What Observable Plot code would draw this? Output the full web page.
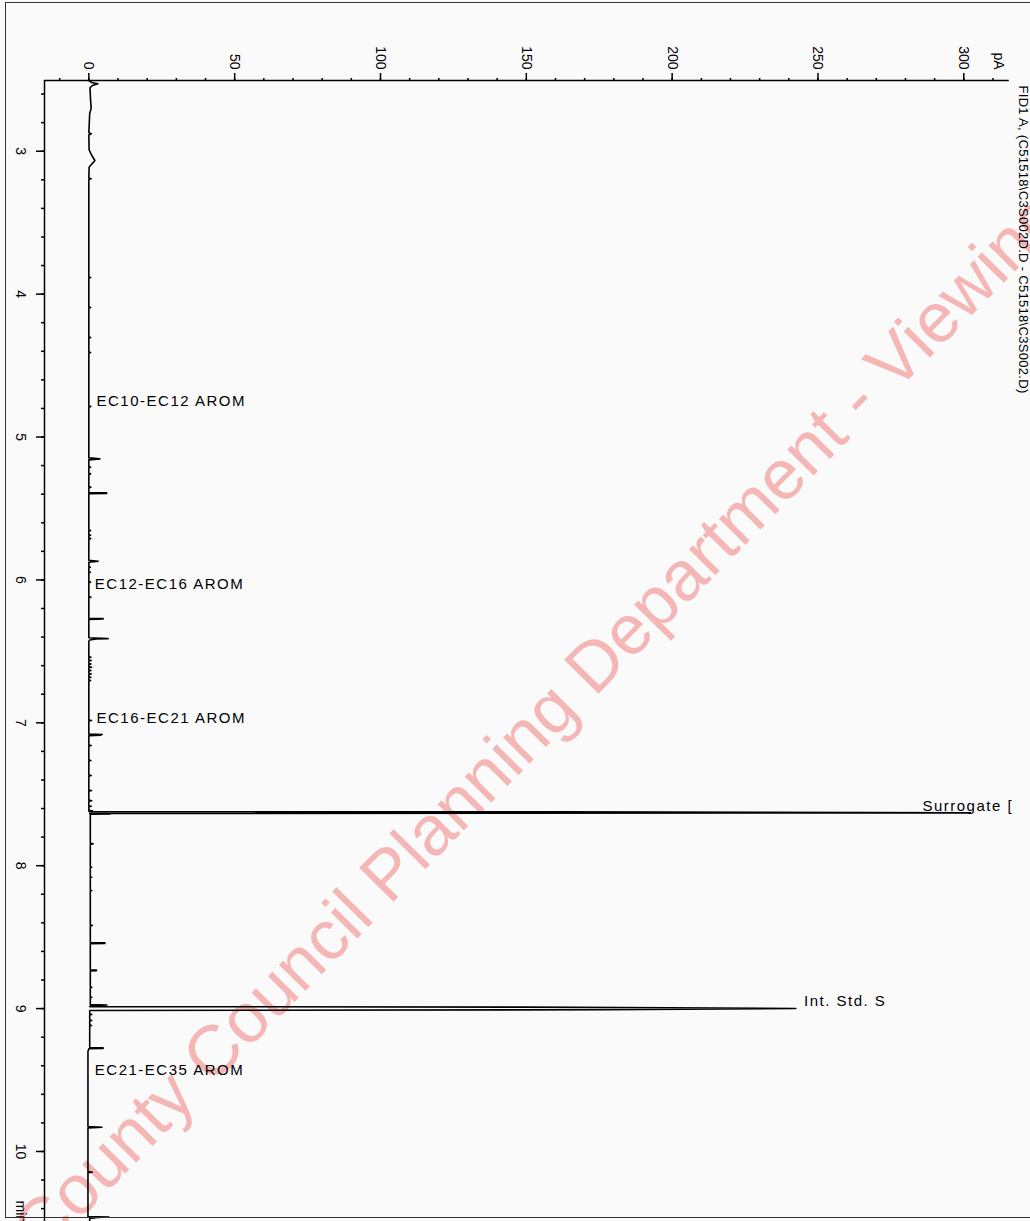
<!DOCTYPE html>
<html><head><meta charset="utf-8">
<script src="https://cdn.jsdelivr.net/npm/d3@7"></script>
<script src="https://cdn.jsdelivr.net/npm/@observablehq/plot@0.6"></script>
<style>
html,body{margin:0;padding:0;background:#fafafa;}
#wrap{position:relative;width:1030px;height:1221px;overflow:hidden;background:#fafafa;}
#border{position:absolute;left:5px;top:2px;width:1040px;height:1214px;border:1.5px solid #333;pointer-events:none;}
</style></head><body>
<div id="wrap"><div id="chart"></div><div id="border"></div></div>
<script>
// Retention time (min) and detector signal (pA)
const traceTime = [
 2.505,2.519,2.528,2.540,2.556,2.645,2.700,2.736,2.870,2.878,2.886,2.990,3.030,3.065,3.090,3.112,
 3.188,3.193,3.198,3.880,3.884,3.888,4.090,4.094,4.098,4.300,4.304,4.308,4.405,4.409,4.413,
 4.783,4.787,4.791,5.146,5.153,5.160,5.207,5.211,5.215,5.254,5.258,5.262,5.347,5.351,5.355,
 5.389,5.391,5.395,5.397,5.651,5.655,5.659,5.683,5.687,5.691,5.707,5.711,5.715,
 5.862,5.869,5.876,5.907,5.911,5.915,5.942,5.946,5.950,6.012,6.016,6.020,6.117,6.121,6.125,
 6.268,6.270,6.274,6.276,6.405,6.411,6.414,6.420,6.430,
 6.537,6.541,6.545,6.560,6.564,6.568,6.584,6.588,6.592,6.607,6.611,6.615,6.630,6.634,6.638,
 6.654,6.658,6.662,6.677,6.681,6.685,6.700,6.704,6.708,
 6.980,6.984,6.988,7.078,7.082,7.086,7.090,
 7.155,7.159,7.163,7.260,7.264,7.268,7.365,7.369,7.373,7.470,7.474,7.478,7.541,7.545,7.549,
 7.580,7.584,7.588,7.612,7.615,7.618,
 7.6215,7.623,7.630,7.6345,7.637,7.640,
 7.843,7.847,7.851,8.006,8.010,8.014,8.076,8.080,8.084,8.169,8.173,8.177,8.414,8.418,8.422,
 8.538,8.540,8.544,8.546,8.729,8.731,8.735,8.737,8.846,8.850,8.854,8.916,8.920,8.924,
 8.972,8.975,8.979,
 8.986,8.990,8.999,9.008,9.013,
 9.037,9.041,9.045,9.079,9.083,9.087,9.114,9.118,9.122,
 9.273,9.275,9.279,9.281,9.300,
 9.825,9.830,9.836,10.141,10.145,10.149,
 10.455,10.459,10.462,10.468,10.490
];
const traceSignal = [
 0,1.0,3.1,1.2,0.4,0.6,0.8,0.3,0,0.8,0,0.1,1.0,2.1,1.0,0.1,
 0,0.8,0,0,0.6,0,0,0.6,0,0,0.6,0,0,0.6,0,
 0,0.7,0,0,3.8,0,0,0.6,0,0,0.6,0,0,0.7,0,
 0,6.1,6.1,0,0,0.6,0,0,0.6,0,0,0.6,0,
 0,3.2,0,0,0.5,0,0,0.5,0,0,0.6,0,0,0.7,0,
 0,4.9,4.9,0,0,6.6,2.5,0.3,0,
 0,0.7,0,0,0.8,0,0,0.7,0,0,0.9,0,0,0.7,0,
 0,0.8,0,0,0.7,0,0,0.6,0,
 0,0.9,0,0,4.6,4.0,0,
 0,0.8,0,0,0.7,0,0,0.8,0,0,0.9,0,0,1.0,0,
 0,0.8,0,0,1.2,0,
 0.2,160,302.3,0.3,7.4,0.5,
 0.5,1.5,0.5,0.5,1.0,0.5,0.5,1.0,0.5,0.5,1.0,0.5,0.5,1.2,0.5,
 0.5,5.5,5.5,0.5,0.5,2.6,2.6,0.5,0.5,1.0,0.5,0.5,1.0,0.5,
 0.5,6.2,0.8,
 0.3,149.5,242.4,176.5,0.3,
 0.3,1.0,0.3,0.3,1.0,0.3,0.3,0.9,0.3,
 0.3,4.9,4.9,0,-0.3,
 -0.3,4.5,-0.3,-0.3,1.2,-0.3,
 -0.3,6.9,3.0,0.3,0.3
];

// Peak annotations
const labelText = ["EC10-EC12 AROM","EC12-EC16 AROM","EC16-EC21 AROM","EC21-EC35 AROM","Surrogate [","Int. Std. S"];
const labelTime = [4.784, 6.062, 7.003, 9.468, 7.619, 8.983];
const labelSignal = [2.64, 2.06, 2.64, 2.06, 285.8, 245.2];

// Axes
const xDomain = [-15.2, 315.6];
const yDomain = [2.505, 10.49];
const xMajorTicks = [0, 50, 100, 150, 200, 250, 300];
const xMinorTicks = d3.range(-10, 316, 10);
const yMajorTicks = [3, 4, 5, 6, 7, 8, 9, 10];
const yMinorTicks = d3.range(2.6, 10.45, 0.2);
const xUnit = "pA";
const yUnit = "min";
const signalTitle = "FID1 A, (C51518\\C3S002D.D - C51518\\C3S002.D)";
const watermark = "County Council Planning Department - Viewing";

const trace = traceTime.map((t, i) => ({t, s: traceSignal[i]}));
const labels = labelText.map((text, i) => ({text, t: labelTime[i], s: labelSignal[i]}));

const chart = Plot.plot({
  width: 1030,
  height: 1221,
  marginLeft: 44,
  marginTop: 80,
  marginRight: 21.2,
  marginBottom: 0,
  style: {background: "#fafafa", fontFamily: "'Liberation Sans', Arial, sans-serif", color: "black", overflow: "hidden"},
  x: {domain: xDomain, axis: null},
  y: {domain: yDomain, reverse: true, axis: null},
  marks: [
    Plot.text([watermark], {frameAnchor: "bottom-left", dx: -2, dy: 36, rotate: -45.4, textAnchor: "start",
      lineAnchor: "bottom", fontSize: 70, fill: "#f5b6b6"}),
    Plot.ruleX([xDomain[0]], {stroke: "black", strokeWidth: 1.5}),
    Plot.ruleY([yDomain[0]], {stroke: "black", strokeWidth: 1.5}),
    Plot.axisX(xMinorTicks, {anchor: "top", tickSize: 3, tickFormat: () => "", label: null, strokeWidth: 1.5}),
    Plot.axisX(xMajorTicks, {anchor: "top", tickSize: 8, tickRotate: 90, textAnchor: "end", lineAnchor: "middle",
      tickPadding: 3, fontSize: 14, label: null, strokeWidth: 1.5, tickFormat: d => String(d)}),
    Plot.axisY(yMinorTicks, {anchor: "left", tickSize: 3, tickFormat: () => "", label: null, strokeWidth: 1.5}),
    Plot.axisY(yMajorTicks, {anchor: "left", tickSize: 8, tickRotate: 90, textAnchor: "middle", lineAnchor: "top",
      tickPadding: 11, fontSize: 14, label: null, strokeWidth: 1.5, tickFormat: d => String(d)}),
    Plot.text([xUnit], {x: () => 312, frameAnchor: "top", dy: -11, rotate: 90, textAnchor: "end", lineAnchor: "middle", fontSize: 14}),
    Plot.text([yUnit], {y: () => 10.343, frameAnchor: "left", dx: -19, rotate: 90, textAnchor: "start", lineAnchor: "top", fontSize: 14}),
    Plot.text([signalTitle], {frameAnchor: "top-right", dx: 9.7, dy: 5, rotate: 90, textAnchor: "start", lineAnchor: "bottom",
      fontSize: 13}),
    Plot.line(trace, {x: "s", y: "t", stroke: "black", strokeWidth: 1.6}),
    Plot.text(labels, {x: "s", y: "t", text: "text", textAnchor: "start", lineAnchor: "bottom", fontSize: 15,
      fill: "black"})
  ]
});
document.getElementById("chart").appendChild(chart);
d3.select(chart).selectAll("text")
  .filter(function() { return labelText.includes(this.textContent); })
  .attr("letter-spacing", "1.5px");
d3.select(chart).selectAll("text")
  .filter(function() { return this.textContent === signalTitle; })
  .attr("letter-spacing", "0.3px");
</script>
</body></html>
